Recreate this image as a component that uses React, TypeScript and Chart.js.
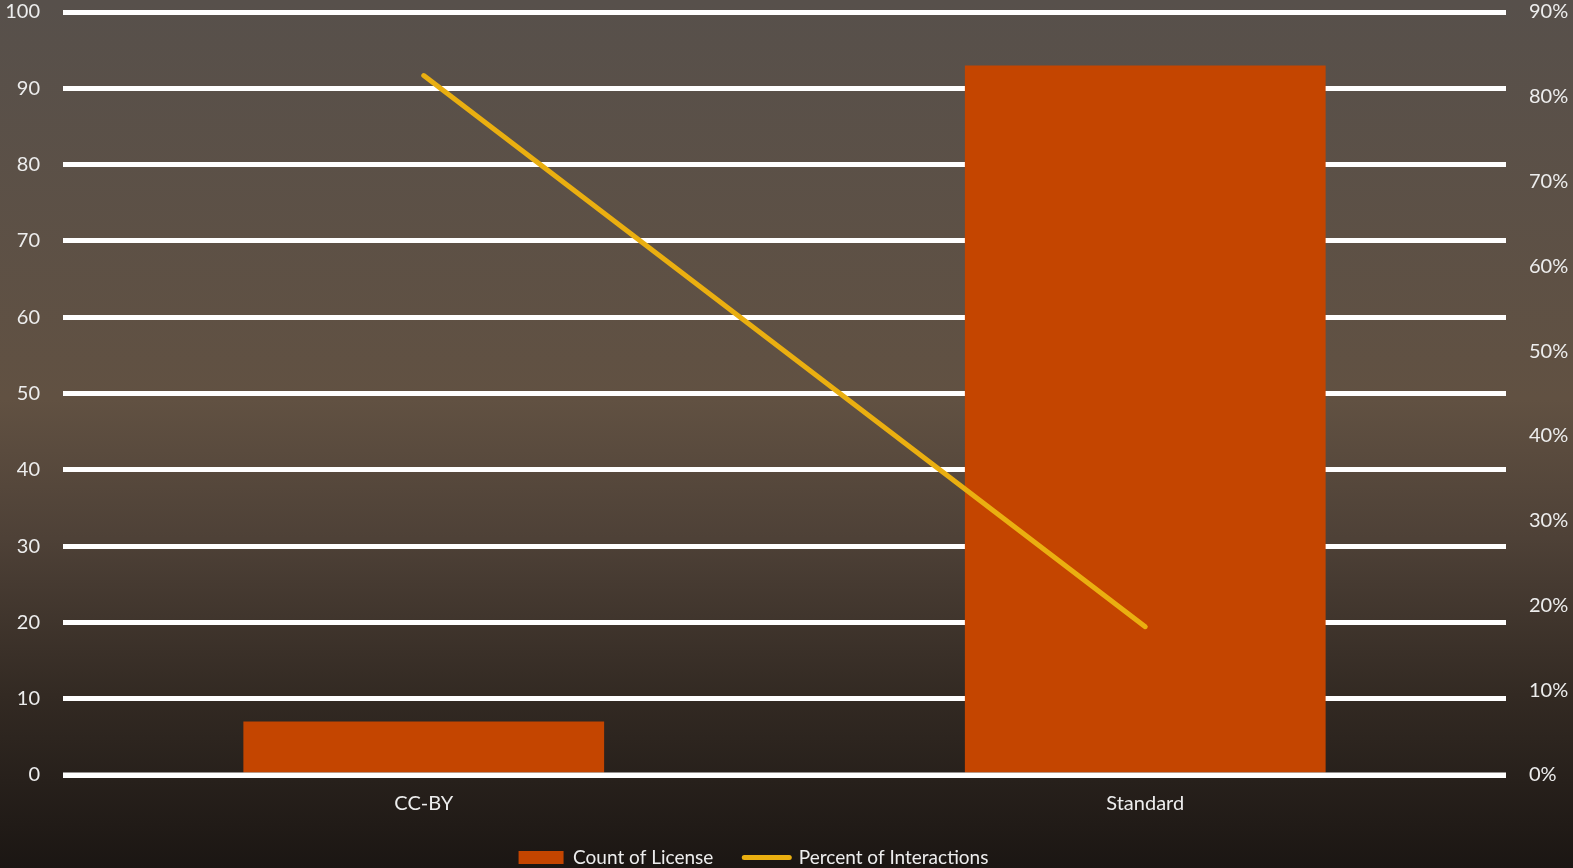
import React, { useEffect, useRef } from "react";
import { Chart, registerables } from "chart.js";

Chart.register(...registerables);

// Categories and series
const categories: string[] = ["CC-BY", "Standard"];
const countOfLicense: number[] = [7, 93];
const percentOfInteractions: number[] = [0.825, 0.175];

// Axis ranges
const countMax = 100;
const countStep = 10;
const percentMax = 0.9;
const percentStep = 0.1;

const BAR_COLOR = "#C44500";
const LINE_COLOR = "#EAAF10";
const TEXT_COLOR = "#EDEDED";
const FONT_FAMILY = "Lato, 'Open Sans', sans-serif";

// Dark warm gradient behind the whole canvas
const backgroundPlugin = {
  id: "gradientBackground",
  beforeDraw(chart: any) {
    const { ctx, width, height } = chart;
    const g = ctx.createLinearGradient(0, 0, 0, height);
    g.addColorStop(0, "#57504B");
    g.addColorStop(0.46, "#615142");
    g.addColorStop(0.62, "#4E4137");
    g.addColorStop(0.8, "#332A23");
    g.addColorStop(1, "#1B1613");
    ctx.save();
    ctx.fillStyle = g;
    ctx.fillRect(0, 0, width, height);
    ctx.restore();
  },
};

// Baseline stays visible under the bars' bottom edge
const baselinePlugin = {
  id: "baselineOnTop",
  afterDatasetsDraw(chart: any) {
    const { ctx, chartArea, scales } = chart;
    const y = scales.y.getPixelForValue(0);
    ctx.save();
    ctx.strokeStyle = "#FFFFFF";
    ctx.lineWidth = 5;
    ctx.beginPath();
    ctx.moveTo(chartArea.left, y);
    ctx.lineTo(chartArea.right, y);
    ctx.stroke();
    ctx.restore();
  },
};

// Legend sits a little left of the canvas centre
const legendShiftPlugin = {
  id: "legendShift",
  afterLayout(chart: any) {
    const legend = chart.legend;
    if (!legend) return;
    legend.left -= 33;
    legend.right -= 33;
    if (legend.adjustHitBoxes) legend.adjustHitBoxes();
  },
};

// Vertical axes only need half a label of room above and below
const tightVertical = (width: number) => (s: any) => {
  s.width = width;
  s.paddingTop = 12;
  s.paddingBottom = 12;
};

export default function App() {
  const canvasRef = useRef<HTMLCanvasElement | null>(null);

  useEffect(() => {
    document.body.style.margin = "0";
    const canvas = canvasRef.current;
    if (!canvas) return;

    const chart = new Chart(canvas, {
      data: {
        labels: categories,
        datasets: [
          {
            type: "line",
            label: "Percent of Interactions",
            data: percentOfInteractions,
            yAxisID: "y1",
            borderColor: LINE_COLOR,
            backgroundColor: LINE_COLOR,
            borderWidth: 5,
            borderCapStyle: "round",
            pointRadius: 0,
            pointHoverRadius: 0,
            tension: 0,
            order: 0,
          },
          {
            type: "bar",
            label: "Count of License",
            data: countOfLicense,
            yAxisID: "y",
            backgroundColor: BAR_COLOR,
            borderWidth: 0,
            barPercentage: 0.5,
            categoryPercentage: 1,
            order: 1,
          },
        ],
      } as any,
      options: {
        animation: false,
        responsive: false,
        maintainAspectRatio: false,
        layout: { padding: { top: 0, left: 0, right: 0, bottom: -9 } },
        plugins: {
          tooltip: { enabled: false },
          legend: {
            position: "bottom",
            labels: {
              color: TEXT_COLOR,
              font: { family: FONT_FAMILY, size: 19 },
              usePointStyle: true,
              pointStyleWidth: 45,
              boxHeight: 13,
              padding: 31,
              generateLabels: () => [
                {
                  text: "Count of License",
                  fillStyle: BAR_COLOR,
                  strokeStyle: BAR_COLOR,
                  lineWidth: 0,
                  pointStyle: "rect",
                  fontColor: TEXT_COLOR,
                  hidden: false,
                  datasetIndex: 1,
                },
                {
                  text: "Percent of Interactions",
                  fillStyle: LINE_COLOR,
                  strokeStyle: LINE_COLOR,
                  lineWidth: 5,
                  lineCap: "round",
                  pointStyle: "line",
                  fontColor: TEXT_COLOR,
                  hidden: false,
                  datasetIndex: 0,
                },
              ],
            },
          },
        },
        scales: {
          x: {
            type: "category",
            grid: { display: false, drawTicks: false },
            border: { display: false },
            ticks: {
              color: TEXT_COLOR,
              font: { family: FONT_FAMILY, size: 20 },
              padding: 17,
            },
            afterFit: (s: any) => {
              s.height -= 16;
            },
          },
          y: {
            type: "linear",
            position: "left",
            min: 0,
            max: countMax,
            grid: { color: "#FFFFFF", lineWidth: 5, drawTicks: false },
            border: { display: false },
            ticks: {
              stepSize: countStep,
              color: TEXT_COLOR,
              font: { family: FONT_FAMILY, size: 20 },
              padding: 23,
            },
            afterFit: tightVertical(63),
          },
          y1: {
            type: "linear",
            position: "right",
            min: 0,
            max: percentMax,
            grid: { display: false, drawTicks: false },
            border: { display: false },
            ticks: {
              stepSize: percentStep,
              color: TEXT_COLOR,
              font: { family: FONT_FAMILY, size: 20 },
              padding: 23,
              callback: (v: any) => `${Math.round(Number(v) * 100)}%`,
            },
            afterFit: tightVertical(67),
          },
        },
      } as any,
      plugins: [backgroundPlugin, baselinePlugin, legendShiftPlugin],
    });

    return () => chart.destroy();
  }, []);

  return (
    <div style={{ position: "fixed", left: 0, top: 0, width: 1573, height: 868 }}>
      <canvas ref={canvasRef} width={1573} height={868} style={{ display: "block" }} />
    </div>
  );
}
